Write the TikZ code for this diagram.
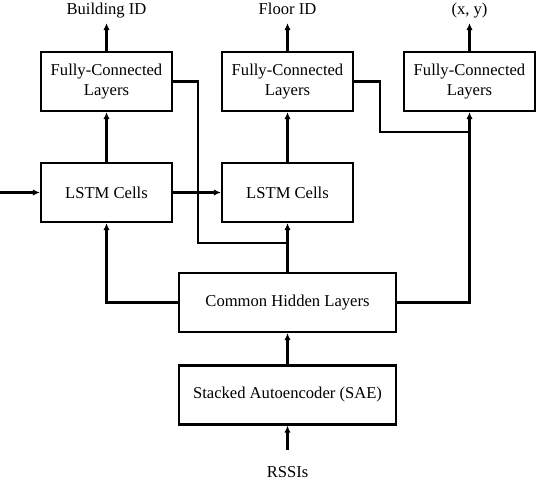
\documentclass[tikz,border=0pt]{standalone}
\usepackage{fontspec}
\setmainfont{Liberation Serif}
\usetikzlibrary{arrows.meta}

\begin{document}
\begin{tikzpicture}[
  x=0.025cm, y=-0.025cm,
  font=\fontsize{11.8}{14.2}\selectfont,
  block/.style={draw, line width=1.5pt, align=center, minimum width=3.275cm, minimum height=1.475cm, inner sep=2pt},
  wide/.style={block, minimum width=5.425cm},
  arr/.style={-{Latex[length=5pt,width=4.5pt]}, line width=1.5pt},
  wire/.style={line width=1.5pt},
  outlabel/.style={inner sep=3pt, text height=0.75em, text depth=0.25em}
]
\useasboundingbox (0,0) rectangle (538,479);

% Fully-connected heads
\node[block] (fcb) at (106.5,81.5) {Fully-Connected\\Layers};
\node[block] (fcf) at (287.5,81.5) {Fully-Connected\\Layers};
\node[block] (fcxy) at (469.5,81.5) {Fully-Connected\\Layers};

% Recurrent part
\node[block] (lstmb) at (106.5,192.5) {LSTM Cells};
\node[block] (lstmf) at (287.5,192.5) {LSTM Cells};

% Shared part
\node[wide] (common) at (287.5,302.5) {Common Hidden Layers};
\node[wide] (sae) at (287.5,395) {Stacked Autoencoder (SAE)};

% Outputs and input
\node[outlabel, anchor=base] (bid) at (106.5,15) {Building ID};
\node[outlabel, anchor=base] (fid) at (287.5,15) {Floor ID};
\node[outlabel, anchor=base] (xy) at (469.5,15) {(x, y)};
\node[outlabel, anchor=base, outer ysep=8.7pt] (rssi) at (287.5,477) {RSSIs};

\coordinate (hin) at (0,192.5);
\coordinate (jb) at (287.5,243);
\coordinate (jf) at (469.5,132);

% Main flow
\draw[arr] (rssi) -- (sae);
\draw[arr] (sae) -- (common);
\draw[arr] (common.north) -- (lstmf.south);
\draw[arr] (common.west) -| (lstmb.south);
\draw[arr] (common.east) -| (fcxy.south);
\draw[arr] (hin) -- (lstmb);
\draw[arr] (lstmb) -- (lstmf);
\draw[arr] (lstmb) -- (fcb);
\draw[arr] (lstmf) -- (fcf);
\draw[arr] (fcb) -- (bid);
\draw[arr] (fcf) -- (fid);
\draw[arr] (fcxy) -- (xy);

% Hierarchical feeds
\draw[wire] (fcb.east) -- ++(25,0) |- (jb);
\draw[wire] (fcf.east) -- ++(26,0) |- (jf);

\end{tikzpicture}
\end{document}
